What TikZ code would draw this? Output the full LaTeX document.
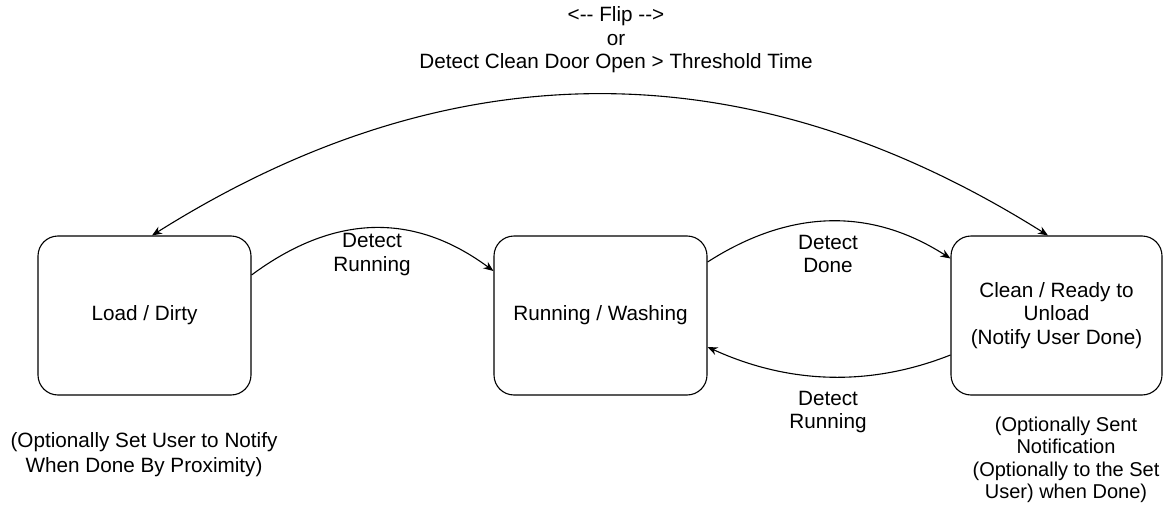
\documentclass[tikz,border=0pt]{standalone}
\usepackage{fontspec}
\setmainfont{Liberation Sans}
\usetikzlibrary{arrows.meta}
\begin{document}
\begin{tikzpicture}[x=1pt,y=-1pt,
  every node/.style={font=\fontsize{20.7}{23.5}\selectfont},
  state/.style={draw,line width=1.1pt,rounded corners=20pt,
    minimum width=213pt,minimum height=159pt,inner sep=0pt,align=center},
  lbl/.style={align=center,inner sep=0pt},
  arr/.style={line width=1.1pt,-{Stealth[length=10pt,width=8pt]}},
  biarr/.style={line width=1.1pt,{Stealth[length=10pt,width=8pt]}-{Stealth[length=10pt,width=8pt]}}]
\useasboundingbox (0,0) rectangle (1163,514);

% states
\node[state] (b1) at (144.5,315.5) {Load / Dirty};
\node[state] (b2) at (600.5,315.5) {Running / Washing};
\node[state,minimum width=211pt] (b3) at (1056.5,315.5) {Clean / Ready to\\Unload\\(Notify User Done)};

% transitions
\draw[arr] ([yshift=40.5pt]b1.east) .. controls +(81,-60) and +(-81,-60) .. ([yshift=44.5pt]b2.west);
\draw[arr] ([yshift=53.5pt]b2.east) .. controls +(81,-52) and +(-81,-52) .. ([yshift=57pt]b3.west);
\draw[arr] ([yshift=-39.5pt]b3.west) .. controls +(-81,32) and +(81,37) .. ([yshift=-31.5pt]b2.east);
\draw[biarr] ([xshift=7.5pt]b1.north) .. controls +(299,-188) and +(-299,-188) .. ([xshift=-8.5pt]b3.north);

% transition labels
\node[lbl] (l1) at (372,254.5) {Detect\\Running};
\node[lbl] (l2) at (828,254) {Detect\\Done};
\node[lbl] (l3) at (828,412) {Detect\\Running};
\node[lbl] (top) at (616,40) {<\mbox{-}\mbox{-} Flip \mbox{-}\mbox{-}>\\or\\Detect Clean Door Open > Threshold Time};

% notes under the states
\node[lbl,font=\fontsize{20.7}{25}\selectfont] (n1) at (144,455) {(Optionally Set User to Notify\\When Done By Proximity)};
\node[lbl,font=\fontsize{20}{22.5}\selectfont] (n3) at (1066,460) {(Optionally Sent\\Notification\\(Optionally to the Set\\User) when Done)};
\end{tikzpicture}
\end{document}
